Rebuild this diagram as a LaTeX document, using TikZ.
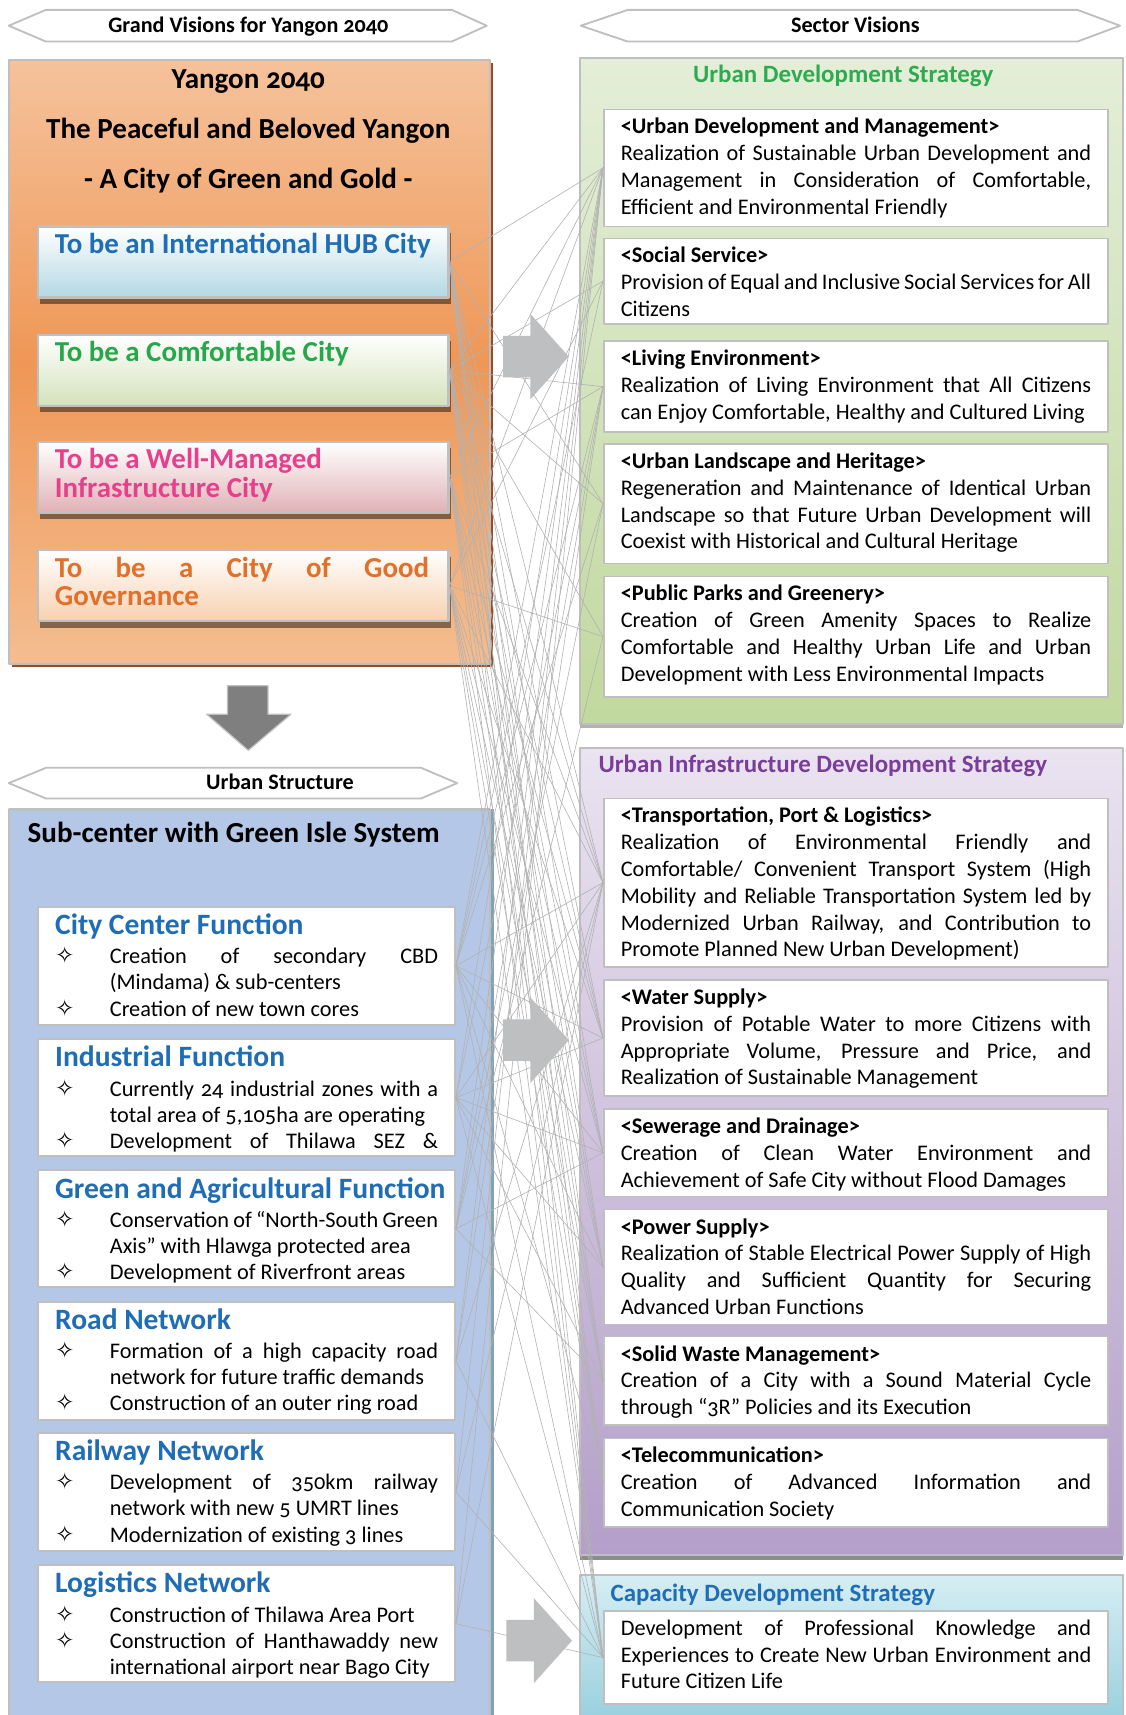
\documentclass[tikz,border=0pt]{standalone}
\usepackage{fontspec}
\setmainfont{Carlito}[Numbers=OldStyle]
\newfontfamily\symfont{DejaVu Sans}
\usetikzlibrary{positioning,calc,fit,shadows}

\definecolor{edgegray}{HTML}{BFBFBF}
\definecolor{linkgray}{HTML}{B2B2B2}
\definecolor{arrowgray}{HTML}{BEBFC1}
\definecolor{darkarrow}{HTML}{7F7F7F}
\definecolor{orTop}{HTML}{F5C29C}
\definecolor{orMid}{HTML}{EF9756}
\definecolor{orBot}{HTML}{F4BD90}
\definecolor{orShadow}{HTML}{9B4A21}
\definecolor{hubBlue}{HTML}{1F6DB4}
\definecolor{hubFill}{HTML}{B3D8E4}
\definecolor{comGreen}{HTML}{27A74B}
\definecolor{comFill}{HTML}{D3E2BB}
\definecolor{infPink}{HTML}{E6408C}
\definecolor{infFill}{HTML}{E0B1B5}
\definecolor{govOrange}{HTML}{E0702A}
\definecolor{govFill}{HTML}{F8D0B0}
\definecolor{strBlue}{HTML}{B4C7E7}
\definecolor{strShadow}{HTML}{7FA2B6}
\definecolor{udsTop}{HTML}{E4EED8}
\definecolor{udsBot}{HTML}{C1D89E}
\definecolor{udsGreen}{HTML}{2DAB4F}
\definecolor{uidTop}{HTML}{EAE3F0}
\definecolor{uidBot}{HTML}{B39FC9}
\definecolor{uidPurple}{HTML}{7A3E9A}
\definecolor{cdsTop}{HTML}{D6EEF3}
\definecolor{cdsBot}{HTML}{98CFDE}

% justified lines and bullets
\newcommand\jl[1]{\makebox[10.75cm][s]{\spaceskip=0pt\xspaceskip=0pt #1}}
\newcommand\bul{\makebox[1.25cm][l]{{\symfont\fontsize{15}{15}\selectfont\char"2727}}}
\newcommand\bj[1]{\bul\makebox[7.5cm][s]{\spaceskip=0pt\xspaceskip=0pt #1}}
\newcommand\bp[1]{\bul#1}
\newcommand\cj[1]{\hspace*{1.25cm}\makebox[7.5cm][s]{\spaceskip=0pt\xspaceskip=0pt #1}}
\newcommand\cp[1]{\hspace*{1.25cm}#1}
\newcommand\strhead[1]{{\fontsize{19.2}{19.2}\selectfont\bfseries\color{hubBlue}#1}}

\tikzset{
  banner/.style={draw=edgegray, line width=1.2pt, fill=white},
  bannertext/.style={anchor=base, inner sep=0pt, font=\fontsize{14.4}{16}\selectfont\bfseries},
  outerbox/.style={draw=edgegray, line width=1.5pt, inner sep=0pt},
  visbox/.style={draw=edgegray, line width=1.5pt, inner sep=0pt, top color=white,
    general shadow={fill=black, opacity=.45, shadow xshift=1.4pt, shadow yshift=-4.2pt}},
  vistext/.style={anchor=north west, inner sep=0pt, text width=9.3cm, align=justify,
    font=\fontsize{18.8}{18.4}\selectfont\bfseries},
  strbox/.style={draw=edgegray, line width=1.2pt, fill=white, inner sep=0pt},
  strtext/.style={anchor=north west, inner sep=0pt, text width=9cm, align=justify,
    font=\fontsize{14.5}{17}\selectfont},
  secbox/.style={draw=edgegray, line width=1pt, fill=white, inner sep=0pt},
  sectext/.style={anchor=north west, inner sep=0pt, text width=10.9cm, align=justify,
    font=\fontsize{14.5}{17.4}\selectfont},
  sectitle/.style={anchor=base, inner sep=0pt, font=\fontsize{16.2}{19}\selectfont\bfseries},
  bigtitle/.style={anchor=base, inner sep=0pt, font=\fontsize{18.9}{22}\selectfont\bfseries},
  link/.style={draw=linkgray, line width=0.4pt},
  bigarrow/.style={fill=arrowgray},
  downarrow/.style={fill=darkarrow, draw=edgegray, line width=0.8pt},
}

\begin{document}
\begin{tikzpicture}[x=0.025cm,y=-0.025cm,line join=round]
\useasboundingbox (0,0) rectangle (1029,1568);

% headers
\draw[banner] (8,23.5) -- (42,9) -- (413,9) -- (445,23.5) -- (413,38) -- (42,38) -- cycle;
\node[bannertext] (gvt) at (227,29.5) {Grand Visions for Yangon 2040};
\draw[banner] (531,23.5) -- (574,9) -- (985,9) -- (1024,23.5) -- (985,38) -- (574,38) -- cycle;
\node[bannertext] (svt) at (782,29.5) {Sector Visions};

% grand visions
\node[outerbox, top color=orTop, bottom color=orBot, middle color=orMid, fit={(8,55) (448,607)},
  general shadow={fill=orShadow, shadow xshift=2pt, shadow yshift=-2pt}] (ob) {};
\node[bigtitle] (t1) at (227,81) {Yangon 2040};
\node[bigtitle] (t2) at (227,127) {The Peaceful and Beloved Yangon};
\node[bigtitle] (t3) at (227,172) {- A City of Green and Gold -};

\node[visbox, bottom color=hubFill, fit={(35,207) (410,272)}] (v1) {};
\node[vistext, text=hubBlue] (v1t) at ($(v1.north west)+(16,7)$) {To be an International HUB City};
\node[visbox, bottom color=comFill, fit={(35,306) (410,371)}] (v2) {};
\node[vistext, text=comGreen] (v2t) at ($(v2.north west)+(16,7)$) {To be a Comfortable City};
\node[visbox, bottom color=infFill, fit={(35,404) (410,469)}] (v3) {};
\node[vistext, text=infPink] (v3t) at ($(v3.north west)+(16,7)$) {To be a Well-Managed\\Infrastructure City};
\node[visbox, bottom color=govFill, fit={(35,503) (410,568)}] (v4) {};
\node[vistext, text=govOrange] (v4t) at ($(v4.north west)+(16,7)$) {\makebox[8.55cm][s]{\spaceskip=0pt To be a City of Good}\\Governance};

\filldraw[downarrow] (208,627) -- (245,627) -- (245,653) -- (266,653) -- (227,686) -- (189,653) -- (208,653) -- cycle;

% urban structure
\draw[banner] (8,716) -- (42,702) -- (385,702) -- (418,716) -- (385,730) -- (42,730) -- cycle;
\node[bannertext] (ust) at (256,722) {Urban Structure};
\node[outerbox, fill=strBlue, fit={(8,740) (448,1575)},
  general shadow={fill=strShadow, shadow xshift=2.5pt, shadow yshift=0pt}] (sb) {};
\node[bigtitle, anchor=base west] (sbt) at (25,770) {Sub-center with Green Isle System};

\node[strbox, fit={(35,829) (416,937)}] (s1) {};
\node[strtext] (s1t) at ($(s1.north west)+(16,7)$) {\strhead{City Center Function}\\[2pt]
  \bj{Creation of secondary CBD}\\ \cp{(Mindama) \& sub-centers}\\ \bp{Creation of new town cores}};
\node[strbox, fit={(35,950) (416,1057)}] (s2) {};
\node[strtext] (s2t) at ($(s2.north west)+(16,7)$) {\strhead{Industrial Function}\\[2pt]
  \bj{Currently 24 industrial zones with a}\\ \cp{total area of 5,105ha are operating}\\ \bj{Development of Thilawa SEZ \&}};
\node[strbox, fit={(35,1070) (416,1177)}] (s3) {};
\node[strtext] (s3t) at ($(s3.north west)+(16,7)$) {\strhead{Green and Agricultural Function}\\[2pt]
  \bj{Conservation of “North-South Green}\\ \cp{Axis” with Hlawga protected area}\\ \bp{Development of Riverfront areas}};
\node[strbox, fit={(35,1190) (416,1298)}] (s4) {};
\node[strtext] (s4t) at ($(s4.north west)+(16,7)$) {\strhead{Road Network}\\[2pt]
  \bj{Formation of a high capacity road}\\ \cp{network for future traffic demands}\\ \bp{Construction of an outer ring road}};
\node[strbox, fit={(35,1310) (416,1418)}] (s5) {};
\node[strtext] (s5t) at ($(s5.north west)+(16,7)$) {\strhead{Railway Network}\\[2pt]
  \bj{Development of 350km railway}\\ \cp{network with new 5 UMRT lines}\\ \bp{Modernization of existing 3 lines}};
\node[strbox, fit={(35,1431) (416,1538)}] (s6) {};
\node[strtext] (s6t) at ($(s6.north west)+(16,7)$) {\strhead{Logistics Network}\\[2pt]
  \bp{Construction of Thilawa Area Port}\\ \bj{Construction of Hanthawaddy new}\\ \cp{international airport near Bago City}};

% sector visions
\node[outerbox, top color=udsTop, bottom color=udsBot, fit={(530,53) (1027,662)},
  general shadow={fill=gray!60, shadow xshift=0pt, shadow yshift=-2.5pt}] (gb) {};
\node[sectitle, text=udsGreen] (gbt) at (771,75) {Urban Development Strategy};

\node[secbox, fit={(552,100) (1013,207)}] (u1) {};
\node[sectext] (u1t) at ($(u1.north west)+(16,8.5)$) {\textbf{<Urban Development and Management>}\\
  \jl{Realization of Sustainable Urban Development and}\\ \jl{Management in Consideration of Comfortable,}\\ Efficient and Environmental Friendly};
\node[secbox, fit={(552,218) (1013,296)}] (u2) {};
\node[sectext] (u2t) at ($(u2.north west)+(16,8.5)$) {\textbf{<Social Service>}\\
  \jl{Provision of Equal and Inclusive Social Services for All}\\ Citizens};
\node[secbox, fit={(552,312) (1013,395)}] (u3) {};
\node[sectext] (u3t) at ($(u3.north west)+(16,8.5)$) {\textbf{<Living Environment>}\\
  \jl{Realization of Living Environment that All Citizens}\\ can Enjoy Comfortable, Healthy and Cultured Living};
\node[secbox, fit={(552,406) (1013,515)}] (u4) {};
\node[sectext] (u4t) at ($(u4.north west)+(16,8.5)$) {\textbf{<Urban Landscape and Heritage>}\\
  \jl{Regeneration and Maintenance of Identical Urban}\\ \jl{Landscape so that Future Urban Development will}\\ Coexist with Historical and Cultural Heritage};
\node[secbox, fit={(552,527) (1013,637)}] (u5) {};
\node[sectext] (u5t) at ($(u5.north west)+(16,8.5)$) {\textbf{<Public Parks and Greenery>}\\
  \jl{Creation of Green Amenity Spaces to Realize}\\ \jl{Comfortable and Healthy Urban Life and Urban}\\ Development with Less Environmental Impacts};

\node[outerbox, top color=uidTop, bottom color=uidBot, fit={(530,684) (1027,1422)},
  general shadow={fill=gray!90, shadow xshift=0pt, shadow yshift=-3pt}] (pb) {};
\node[sectitle, anchor=base west, text=uidPurple] (pbt) at (547,706) {Urban Infrastructure Development Strategy};

\node[secbox, fit={(552,730) (1013,884)}] (p1) {};
\node[sectext] (p1t) at ($(p1.north west)+(16,8.5)$) {\textbf{<Transportation, Port \& Logistics>}\\
  \jl{Realization of Environmental Friendly and}\\ \jl{Comfortable/ Convenient Transport System (High}\\
  \jl{Mobility and Reliable Transportation System led by}\\ \jl{Modernized Urban Railway, and Contribution to}\\
  Promote Planned New Urban Development)};
\node[secbox, fit={(552,896) (1013,1002)}] (p2) {};
\node[sectext] (p2t) at ($(p2.north west)+(16,8.5)$) {\textbf{<Water Supply>}\\
  \jl{Provision of Potable Water to more Citizens with}\\ \jl{Appropriate Volume, Pressure and Price, and}\\ Realization of Sustainable Management};
\node[secbox, fit={(552,1014) (1013,1094)}] (p3) {};
\node[sectext] (p3t) at ($(p3.north west)+(16,8.5)$) {\textbf{<Sewerage and Drainage>}\\
  \jl{Creation of Clean Water Environment and}\\ Achievement of Safe City without Flood Damages};
\node[secbox, fit={(552,1106) (1013,1211)}] (p4) {};
\node[sectext] (p4t) at ($(p4.north west)+(16,8.5)$) {\textbf{<Power Supply>}\\
  \jl{Realization of Stable Electrical Power Supply of High}\\ \jl{Quality and Sufficient Quantity for Securing}\\ Advanced Urban Functions};
\node[secbox, fit={(552,1222) (1013,1303)}] (p5) {};
\node[sectext] (p5t) at ($(p5.north west)+(16,8.5)$) {\textbf{<Solid Waste Management>}\\
  \jl{Creation of a City with a Sound Material Cycle}\\ through “3R” Policies and its Execution};
\node[secbox, fit={(552,1315) (1013,1396)}] (p6) {};
\node[sectext] (p6t) at ($(p6.north west)+(16,8.5)$) {\textbf{<Telecommunication>}\\
  \jl{Creation of Advanced Information and}\\ Communication Society};

\node[outerbox, top color=cdsTop, bottom color=cdsBot, fit={(530,1440) (1027,1575)}] (cb) {};
\node[sectitle, anchor=base west, text=hubBlue] (cbt) at (558,1464) {Capacity Development Strategy};
\node[secbox, fit={(552,1473) (1013,1558)}] (c1) {};
\node[sectext] (c1t) at ($(c1.north west)+(16,8.5)$) {\jl{Development of Professional Knowledge and}\\
  \jl{Experiences to Create New Urban Environment and}\\ Future Citizen Life};

% relations
\foreach \a in {v1,v2,v3,v4}
  \foreach \b in {u1,p1,p2,p3,p4,p5,p6,c1}
    \draw[link] (\a.east) -- (\b.west);
\foreach \a/\b in {v1/u4,v2/u2,v2/u3,v2/u4,v2/u5,v3/u3,v4/u2,v4/u5,
  s1/u1,s1/u2,s1/u3,s1/u4,s1/p1,s1/p2,s1/p3,s1/p4,s1/p6,s1/c1,
  s2/u1,s2/u3,s2/p1,s2/p2,s2/p3,s2/p4,s2/p5,s2/c1,
  s3/u1,s3/u3,s3/u4,s3/u5,s3/p3,s3/p5,
  s4/u1,s4/u3,s4/p1,s4/c1,s5/u1,s5/p1,s5/c1,s6/u1,s6/p1,s6/c1}
  \draw[link] (\a.east) -- (\b.west);

% big arrows
\fill[bigarrow] (460,307) -- (485,307) -- (485,287) -- (520,326) -- (485,365) -- (485,345) -- (460,345) -- cycle;
\fill[bigarrow] (460,932) -- (485,932) -- (485,912) -- (520,951) -- (485,990) -- (485,970) -- (460,970) -- cycle;
\fill[bigarrow] (463,1481) -- (488,1481) -- (488,1461) -- (523,1500) -- (488,1539) -- (488,1519) -- (463,1519) -- cycle;

\end{tikzpicture}
\end{document}
